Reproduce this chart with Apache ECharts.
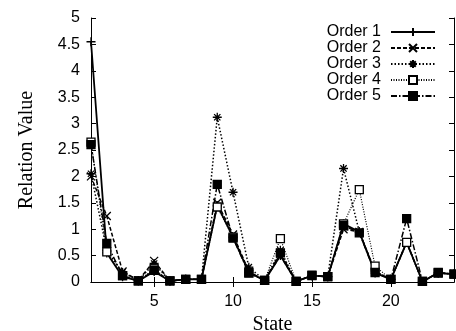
<!DOCTYPE html>
<html>
<head>
<meta charset="utf-8">
<script src="https://cdn.jsdelivr.net/npm/echarts@6/dist/echarts.min.js"></script>
<style>
  html, body { margin: 0; padding: 0; background: #fff; }
  #chart { width: 456px; height: 331px; }
</style>
</head>
<body>
<div id="chart"></div>
<script>
// states 1..24
const states = ['1','2','3','4','5','6','7','8','9','10','11','12','13','14','15','16','17','18','19','20','21','22','23','24']
const yTicks = [0, 0.5, 1, 1.5, 2, 2.5, 3, 3.5, 4, 4.5, 5]

const order1 = [4.55, 0.55, 0.1, 0.02, 0.2, 0.02, 0.05, 0.05, 1.45, 0.85, 0.18, 0.03, 0.5, 0.01, 0.12, 0.1, 1.1, 0.95, 0.17, 0.05, 0.75, 0.01, 0.17, 0.15]
const order2 = [2.0, 1.25, 0.2, 0.03, 0.4, 0.02, 0.05, 0.05, 1.5, 0.9, 0.2, 0.03, 0.5, 0.01, 0.12, 0.1, 1.0, 0.95, 0.2, 0.05, 0.75, 0.01, 0.17, 0.15]
const order3 = [2.05, 0.6, 0.18, 0.03, 0.35, 0.02, 0.05, 0.05, 3.12, 1.7, 0.28, 0.03, 0.6, 0.01, 0.12, 0.1, 2.15, 0.95, 0.2, 0.05, 0.75, 0.01, 0.17, 0.15]
const order4 = [2.65, 0.57, 0.12, 0.02, 0.25, 0.02, 0.05, 0.05, 1.42, 0.85, 0.18, 0.03, 0.82, 0.01, 0.12, 0.1, 1.1, 1.75, 0.3, 0.05, 0.75, 0.01, 0.17, 0.15]
const order5 = [2.6, 0.73, 0.12, 0.02, 0.22, 0.02, 0.05, 0.05, 1.85, 0.83, 0.17, 0.03, 0.55, 0.01, 0.13, 0.1, 1.07, 0.93, 0.18, 0.05, 1.2, 0.01, 0.18, 0.15]

const names = ['Order 1', 'Order 2', 'Order 3', 'Order 4', 'Order 5']

const SANS = 'Liberation Sans, Arial, sans-serif'
const SERIF = 'Liberation Serif, Times New Roman, serif'

// gnuplot-like point types
const plusSym = 'path://M5,0L5,10M0,5L10,5'
const crossSym = 'path://M0,0L10,10M10,0L0,10'
const starSym = 'path://M5,0L5,10M0,5L10,5M1.5,1.5L8.5,8.5M8.5,1.5L1.5,8.5'

function every5 (idx, val) {
    return Number(val) % 5 === 0
}

function mkSeries (name, data, symbol, size, lineType, width, fill) {
    return {
        name: name,
        type: 'line',
        data: data,
        symbol: symbol,
        symbolSize: size,
        showAllSymbol: true,
        lineStyle: { color: '#000', width: width, type: lineType },
        itemStyle: { color: fill, borderColor: '#000', borderWidth: 1.3 },
        emphasis: { disabled: true }
    }
}

const chart = echarts.init(document.getElementById('chart'))
chart.setOption({
    animation: false,
    backgroundColor: '#fff',
    grid: { left: 91, right: 2, top: 18, bottom: 49, containLabel: false, outerBoundsMode: 'none' },
    legend: {
        data: names,
        orient: 'vertical',
        align: 'right',
        right: 20,
        top: 24,
        padding: 0,
        itemGap: 0,
        itemWidth: 44,
        itemHeight: 10,
        textStyle: { fontFamily: SANS, fontSize: 16, color: '#000', padding: [0, 5, 0, 0] }
    },
    xAxis: [{
        type: 'category',
        data: states,
        boundaryGap: false,
        name: 'State',
        nameLocation: 'middle',
        nameGap: 30,
        nameTextStyle: { fontFamily: SERIF, fontSize: 20, color: '#000' },
        axisLine: { lineStyle: { color: '#000', width: 1 } },
        axisTick: { inside: true, length: 5, interval: every5, lineStyle: { color: '#000' } },
        axisLabel: { interval: every5, margin: 12, fontFamily: SANS, fontSize: 16, color: '#000' },
        splitLine: { show: false }
    }, {
        type: 'category',
        data: states,
        boundaryGap: false,
        position: 'top',
        axisLine: { lineStyle: { color: '#000', width: 1 } },
        axisTick: { inside: true, length: 5, interval: every5, lineStyle: { color: '#000' } },
        axisLabel: { show: false },
        splitLine: { show: false }
    }],
    yAxis: [{
        type: 'value',
        min: 0,
        max: 5,
        interval: 0.5,
        name: 'Relation Value',
        nameLocation: 'middle',
        nameGap: 54,
        nameTextStyle: { fontFamily: SERIF, fontSize: 20, color: '#000' },
        axisLine: { show: true, lineStyle: { color: '#000', width: 1 } },
        axisTick: { show: true, inside: true, length: 5, lineStyle: { color: '#000' } },
        axisLabel: {
            margin: 11,
            fontFamily: SANS,
            fontSize: 16,
            color: '#000',
            formatter: v => (yTicks.indexOf(v) >= 0 ? String(v) : '')
        },
        splitLine: { show: false }
    }, {
        type: 'value',
        min: 0,
        max: 5,
        interval: 0.5,
        position: 'right',
        axisLine: { show: true, lineStyle: { color: '#000', width: 1 } },
        axisTick: { show: true, inside: true, length: 5, lineStyle: { color: '#000' } },
        axisLabel: { show: false },
        splitLine: { show: false }
    }],
    series: [
        mkSeries(names[0], order1, plusSym, 9, 'solid', 1.8, '#000'),
        mkSeries(names[1], order2, crossSym, 8, [4, 2], 1.5, '#000'),
        mkSeries(names[2], order3, starSym, 9, [1.5, 2], 1.5, '#000'),
        mkSeries(names[3], order4, 'rect', 8, [1, 1.5], 1.2, '#fff'),
        mkSeries(names[4], order5, 'rect', 8, [6, 2, 1.5, 2], 1.5, '#000')
    ]
})
</script>
</body>
</html>
